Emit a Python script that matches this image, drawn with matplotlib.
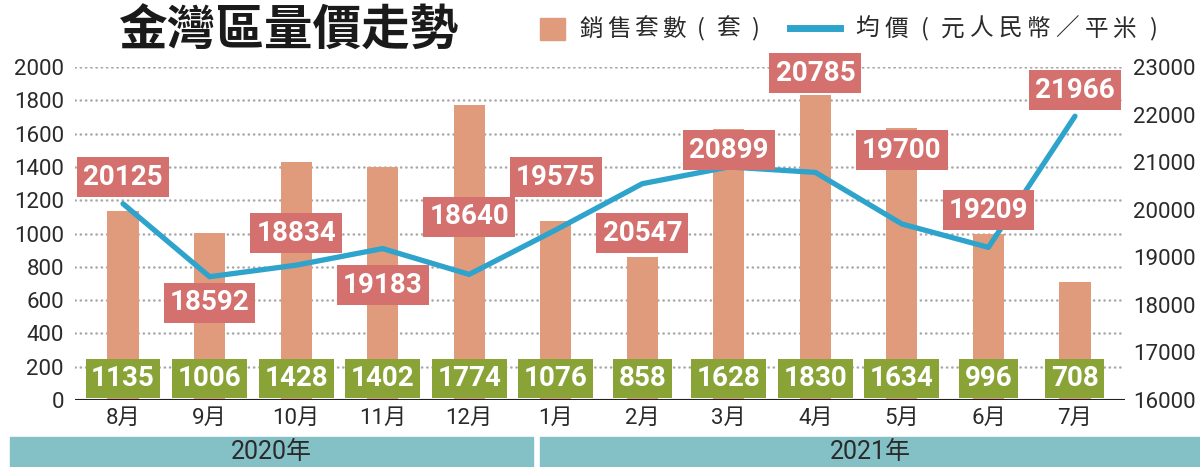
import matplotlib
matplotlib.use("Agg")
import matplotlib.pyplot as plt
from matplotlib.patches import Rectangle
from matplotlib.lines import Line2D

plt.rcParams['font.family'] = ['Roboto', 'Noto Sans CJK TC', 'DejaVu Sans']

# 資料
months = ["8月", "9月", "10月", "11月", "12月", "1月", "2月", "3月", "4月", "5月", "6月", "7月"]
sales = [1135, 1006, 1428, 1402, 1774, 1076, 858, 1628, 1830, 1634, 996, 708]
price = [20125, 18592, 18834, 19183, 18640, 19575, 20547, 20899, 20785, 19700, 19209, 21966]
years = ["2020年", "2021年"]

# 均價標籤的高度（版面用，右軸單位）
price_lab_y = [20687, 18039, 19510, 18417, 19847, 20687, 19510, 21255, 22874, 21255, 19994, 22516]

BAR = "#E09B7C"
LINE = "#2EA3CC"
RED = "#D4716F"
GREEN = "#8AA337"
TEAL = "#84C1C7"
TXT = "#2a2a2a"
NUMFONT = ['Liberation Sans Narrow', 'Roboto', 'DejaVu Sans']

fig = plt.figure(figsize=(12, 4.67), dpi=100)
ax = fig.add_axes([0.0625, 0.1435, 0.875, 0.713])
ax2 = ax.twinx()
ax.set_zorder(ax2.get_zorder() + 1)
ax.patch.set_visible(False)

x = list(range(len(months)))
ax.bar(x, sales, width=0.36, color=BAR, zorder=2)
ax.set_ylim(0, 2000)
ax.set_xlim(-0.555, 11.578)
ax.set_yticks(range(0, 2001, 200))
for v in range(200, 2001, 200):
    ax.axhline(v, color="#a8a8a8", lw=1.8, ls=(0, (0.1, 2.0)), dash_capstyle="round", zorder=1)
ax.axhline(0, color="#222222", lw=1.5, zorder=3)

ax2.set_ylim(16000, 23000)
ax2.set_yticks(range(16000, 23001, 1000))

# 均價線畫在主軸上（換算至左軸比例）
def p2s(p):
    return (p - 16000) / 7000 * 2000

ax.plot(x, [p2s(p) for p in price], color=LINE, lw=3.8, solid_capstyle="round", zorder=4)

for a in (ax, ax2):
    for s in a.spines.values():
        s.set_visible(False)
    a.tick_params(length=0, labelsize=16, colors=TXT)

ax.set_xticks(x)
ax.set_xticklabels(months, fontsize=16, color=TXT)
ax.tick_params(axis="x", pad=6)
ax.tick_params(axis="y", pad=8)
ax2.tick_params(axis="y", pad=6)

for i, s in enumerate(sales):
    ax.text(i, 129, str(s), ha="center", va="center", color="white", fontsize=20,
            fontweight="bold", family=NUMFONT, zorder=6,
            bbox=dict(boxstyle="square,pad=0.2", fc=GREEN, ec="none"))

for i, p in enumerate(price):
    ax.text(i, p2s(price_lab_y[i]), str(p), ha="center", va="center",
            color="white", fontsize=20, fontweight="bold", family=NUMFONT, zorder=7,
            bbox=dict(boxstyle="square,pad=0.22", fc=RED, ec="none"))

# 標題與圖例
fig.text(0.24, 0.933, "金灣區量價走勢", ha="center", va="center", fontsize=35,
         fontweight="black", family="Noto Sans CJK TC", color="#1a1a1a")


def grid_text(x0, y, s, pitch):
    # 逐字等距排列，括號置中
    for k, ch in enumerate(s):
        fig.text((x0 + pitch * (k + 0.5)) / 1200, y, ch, ha="center", va="center",
                 fontsize=17, family="Noto Sans CJK TC", color=TXT, fontweight="light")


fig.patches.append(Rectangle((540 / 1200, 1 - 40 / 467), 25 / 1200, 22 / 467,
                             transform=fig.transFigure, color=BAR))
grid_text(578, 1 - 29 / 467, "銷售套數(套)", 27.3)
fig.lines.append(Line2D([790 / 1200, 840 / 1200], [1 - 28 / 467] * 2, color=LINE, lw=5,
                        transform=fig.transFigure))
grid_text(853, 1 - 29 / 467, "均價(元人民幣／平米)", 28.6)

# 年份底條
fig.patches.append(Rectangle((10 / 1200, 0), 523 / 1200, 30 / 467, transform=fig.transFigure, color=TEAL))
fig.patches.append(Rectangle((540 / 1200, 0), 660 / 1200, 30 / 467, transform=fig.transFigure, color=TEAL))
fig.text(271 / 1200, 15 / 467, years[0], ha="center", va="center", fontsize=18, color=TXT)
fig.text(870 / 1200, 15 / 467, years[1], ha="center", va="center", fontsize=18, color=TXT)

fig.savefig("out.png", dpi=100)
